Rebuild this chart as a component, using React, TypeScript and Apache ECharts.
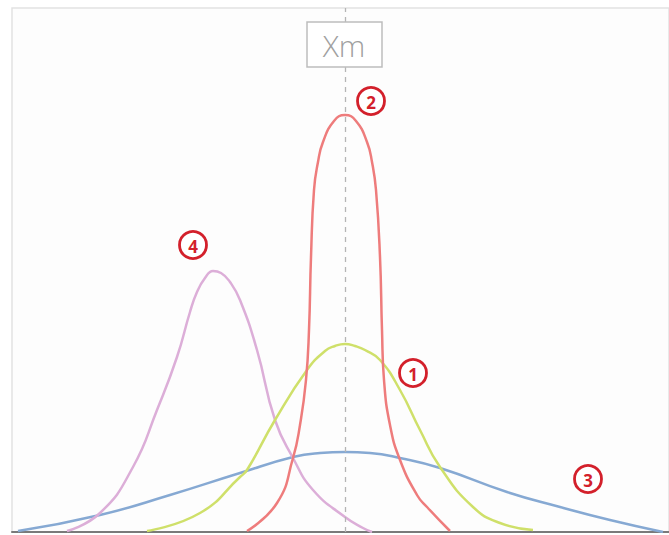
import React, { useEffect, useRef } from "react";
import * as echarts from "echarts";

// x: horizontal position relative to Xm, y: height above baseline
const curve1: [number, number][] = [
  [-198, 1], [-145, 19], [-105, 55], [-98, 62], [-70, 112], [-38, 162], [-20, 181], [-10, 186],
  [0, 188], [10, 186], [20, 182], [35, 172], [55, 142], [75, 102], [95, 65], [128, 25], [155, 9], [188, 2],
];
const curve2: [number, number][] = [
  [-98, 1], [-68, 29], [-52, 74], [-45, 107], [-39, 152], [-36, 202], [-34, 275], [-31, 342],
  [-27, 370], [-22, 390], [-11, 411], [0, 417], [11, 411], [22, 390], [27, 370], [31, 342], [35, 275], [37, 202],
  [39, 152], [45, 107], [55, 72], [72, 37], [82, 25], [105, 1],
];
const curve3: [number, number][] = [
  [-327, 1], [-245, 17], [-175, 37], [-105, 59], [-52, 75], [-25, 79], [0, 80], [25, 79],
  [55, 74], [95, 64], [162, 40], [215, 25], [265, 12], [318, 0],
];
const curve4: [number, number][] = [
  [-278, 1], [-245, 19], [-212, 65], [-188, 122], [-168, 175], [-155, 220], [-148, 240],
  [-140, 254], [-132, 261], [-124, 259], [-115, 250], [-105, 232], [-88, 182], [-70, 112],
  [-52, 74], [-32, 42], [0, 15], [18, 4], [27, 0],
];
const labels = ["1", "2", "3", "4"];
const xmLabel = "Xm";

export default function App() {
  const ref = useRef<HTMLDivElement>(null);
  useEffect(() => {
    document.body.style.margin = "0";
    const chart = echarts.init(ref.current!, null, { renderer: "svg" });
    const line = (data: [number, number][], color: string, extra: any = {}) => ({
      type: "line",
      data,
      smooth: 0.5,
      showSymbol: false,
      symbol: "none",
      lineStyle: { color, width: 2.5 },
      ...extra,
    });
    const circle = (cx: number, cy: number, txt: string) => ({
      type: "group",
      z: 20,
      children: [
        { type: "circle", shape: { cx, cy, r: 13.5 }, style: { fill: "#fff", stroke: "#d3202b", lineWidth: 2.8 } },
        {
          type: "text",
          x: cx,
          y: cy + 1,
          style: {
            text: txt,
            fill: "#d3202b",
            font: "bold 17px 'Open Sans', sans-serif",
            align: "center",
            verticalAlign: "middle",
          },
        },
      ],
    });
    chart.setOption({
      animation: false,
      backgroundColor: "#ffffff",
      grid: {
        left: 12, right: 0, top: 8, bottom: 3,
        show: true, borderColor: "#e2e2e2", borderWidth: 1.5, backgroundColor: "#fdfdfd",
      },
      xAxis: {
        type: "value", min: -333, max: 324,
        axisLine: { show: true, lineStyle: { color: "#7a7a7a", width: 2 } },
        axisTick: { show: false }, axisLabel: { show: false }, splitLine: { show: false },
      },
      yAxis: {
        type: "value", min: 0, max: 524,
        axisLine: { show: false }, axisTick: { show: false }, axisLabel: { show: false }, splitLine: { show: false },
      },
      series: [
        line(curve3, "#86a9d3"),
        line(curve4, "#dcaed8"),
        line(curve1, "#cfe06a"),
        line(curve2, "#ee7c7c", {
          markLine: {
            silent: true,
            symbol: "none",
            label: { show: false },
            lineStyle: { color: "#b5b5b5", type: [5, 5], width: 1.3 },
            data: [{ xAxis: 0 }],
          },
        }),
      ],
      graphic: [
        {
          type: "rect", z: 20,
          shape: { x: 307, y: 22, width: 75, height: 45 },
          style: { fill: "#ffffff", stroke: "#bdbdbd", lineWidth: 1.5 },
        },
        {
          type: "text", z: 21, x: 344, y: 45,
          style: {
            text: xmLabel, fill: "#a0a0a0",
            font: "300 30px 'Open Sans', sans-serif",
            align: "center", verticalAlign: "middle",
          },
        },
        circle(413, 373, labels[0]),
        circle(371, 101, labels[1]),
        circle(588, 479, labels[2]),
        circle(193, 245, labels[3]),
      ],
    });
    return () => chart.dispose();
  }, []);
  return <div ref={ref} style={{ width: 669, height: 535 }} />;
}
